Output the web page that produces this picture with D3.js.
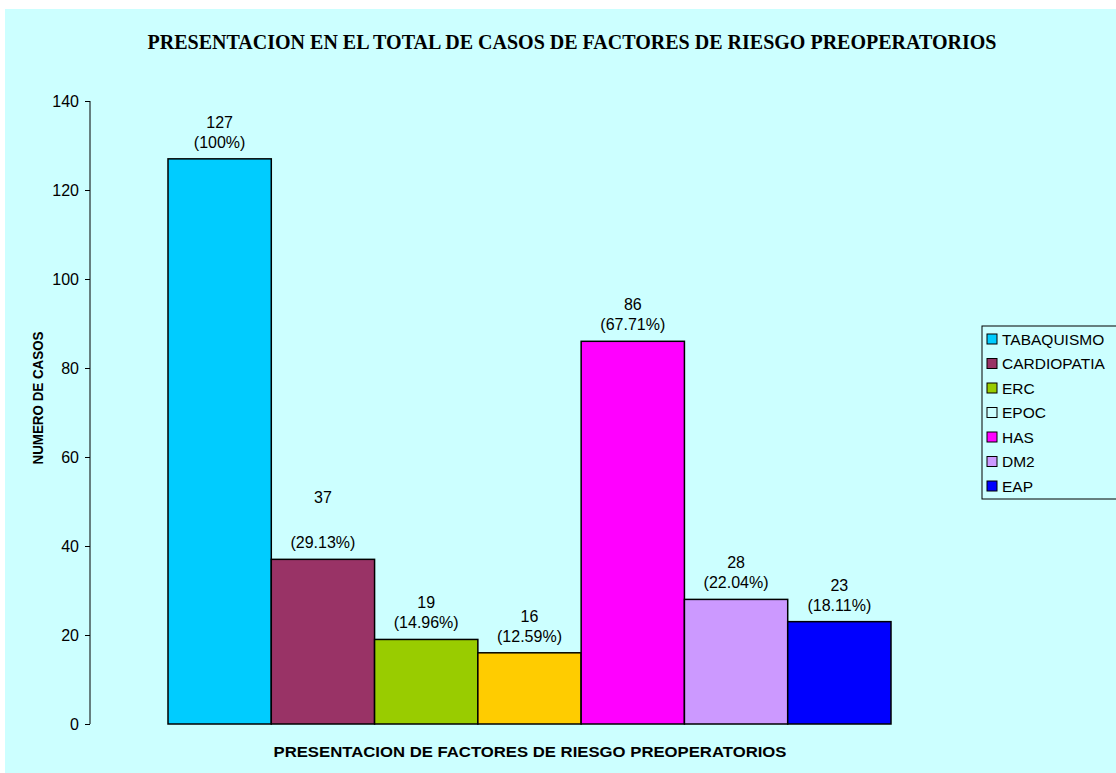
<!DOCTYPE html>
<html><head><meta charset="utf-8">
<script src="https://cdn.jsdelivr.net/npm/d3@7"></script>
<style>body{margin:0;background:#fff}svg{display:block}</style>
</head><body>
<script>
const categories = ["TABAQUISMO","CARDIOPATIA","ERC","EPOC","HAS","DM2","EAP"];
const values = [127, 37, 19, 16, 86, 28, 23];
const percents = ["100%","29.13%","14.96%","12.59%","67.71%","22.04%","18.11%"];
const barColors = ["#00CCFF","#993366","#99CC00","#FFCC00","#FF00FF","#CC99FF","#0000FF"];
const legendColors = ["#00CCFF","#993366","#99CC00","#CCFFFF","#FF00FF","#CC99FF","#0000FF"];
const yTicks = [0,20,40,60,80,100,120,140];
const title = "PRESENTACION EN EL TOTAL DE CASOS DE FACTORES DE RIESGO PREOPERATORIOS";
const xTitle = "PRESENTACION DE FACTORES DE RIESGO PREOPERATORIOS";
const yTitle = "NUMERO DE CASOS";

const W = 1116, H = 773;
const svg = d3.select("body").append("svg").attr("width", W).attr("height", H);
svg.append("rect").attr("x",5).attr("y",9).attr("width",W-5).attr("height",H-9).attr("fill","#CCFFFF");

const y = d3.scaleLinear().domain([0,140]).range([724,101]);
const x = d3.scaleBand().domain(categories).range([168,891]).padding(0);

svg.append("text").attr("x",572).attr("y",49).attr("text-anchor","middle")
  .attr("font-family","Liberation Serif").attr("font-weight","bold").attr("font-size",20)
  .attr("textLength",849).attr("lengthAdjust","spacingAndGlyphs").text(title);

const ax = svg.append("g").attr("transform","translate(90,0)")
  .call(d3.axisLeft(y).tickValues(yTicks).tickSize(5).tickPadding(6));
ax.select(".domain").attr("stroke","#000").attr("d","M0,101V724");
ax.selectAll(".tick line").attr("stroke","#000");
ax.selectAll(".tick text").attr("font-family","Liberation Sans").attr("font-size",16).attr("fill","#000");

svg.append("g").selectAll("rect").data(categories).join("rect")
  .attr("x", d=>x(d)).attr("width", x.bandwidth())
  .attr("y", (d,i)=>y(values[i])).attr("height",(d,i)=>y(0)-y(values[i]))
  .attr("fill",(d,i)=>barColors[i]).attr("stroke","#000").attr("stroke-width",1.5);

const lab = svg.append("g").attr("font-family","Liberation Sans").attr("font-size",16).attr("text-anchor","middle");
categories.forEach((c,i)=>{
  const cx = x(c)+x.bandwidth()/2, top = y(values[i]);
  const extra = c==="CARDIOPATIA" ? 25 : 0;
  lab.append("text").attr("x",cx).attr("y",top-31-extra).text(values[i]);
  lab.append("text").attr("x",cx).attr("y",top-11).text("("+percents[i]+")");
});

svg.append("text").attr("transform","translate(43,398) rotate(-90)").attr("text-anchor","middle")
  .attr("font-family","Liberation Sans").attr("font-weight","bold").attr("font-size",15)
  .attr("textLength",133).attr("lengthAdjust","spacingAndGlyphs").text(yTitle);
svg.append("text").attr("x",530).attr("y",757).attr("text-anchor","middle")
  .attr("font-family","Liberation Sans").attr("font-weight","bold").attr("font-size",15)
  .attr("textLength",513).attr("lengthAdjust","spacingAndGlyphs").text(xTitle);

const lg = svg.append("g");
lg.append("rect").attr("x",982).attr("y",326).attr("width",140).attr("height",173)
  .attr("fill","#CCFFFF").attr("stroke","#000").attr("stroke-width",1);
categories.forEach((c,i)=>{
  const cy = 339 + i*24.5;
  lg.append("rect").attr("x",987).attr("y",cy-5).attr("width",10).attr("height",10)
    .attr("fill",legendColors[i]).attr("stroke","#000").attr("stroke-width",1);
  lg.append("text").attr("x",1002).attr("y",cy+5.5).attr("font-family","Liberation Sans")
    .attr("font-size",15.5).text(c);
});
</script>
</body></html>
